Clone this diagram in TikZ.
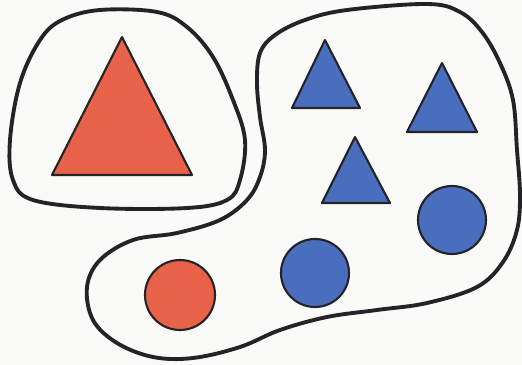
\documentclass[tikz,border=0pt]{standalone}
\usepackage{tikz}
\usepackage{xcolor}
\definecolor{setred}{RGB}{232,98,74}
\definecolor{setblue}{RGB}{74,110,190}
\definecolor{inkdark}{RGB}{35,35,40}
\definecolor{paper}{RGB}{250,250,248}

\begin{document}
\begin{tikzpicture}[x=0.02cm, y=-0.02cm,
    loopline/.style={draw=inkdark, line width=2.2pt, line join=round},
    redpiece/.style={fill=setred, draw=inkdark, line width=1.2pt, line join=round},
    bluepiece/.style={fill=setblue, draw=inkdark, line width=1.2pt, line join=round}
]
    % page with the scan's proportions
    \fill[paper] (0,0) rectangle (522,365);
    \useasboundingbox (0,0) rectangle (522,365);

    % left set: one big red triangle
    \draw[loopline] plot[smooth cycle, tension=0.6] coordinates {
        (100,10) (157,12) (187,27) (213,57) (233,100) (245,140) (240,180)
        (227,200) (187,208) (100,208) (33,200) (13,180) (10,140) (20,83)
        (40,40) (62,20)};
    \draw[redpiece] (122,37) -- (52,175) -- (192,175) -- cycle;

    % right set: blue triangles, blue circles, red circle
    \draw[loopline] plot[smooth cycle, tension=0.6] coordinates {
        (347,10) (427,4) (460,12) (482,32) (500,63) (513,100) (517,150)
        (520,195) (517,230) (503,262) (477,287) (427,303) (377,310)
        (327,317) (280,330) (240,347) (193,358) (153,357) (117,343)
        (93,320) (87,287) (100,260) (133,240) (177,233) (220,220)
        (247,200) (260,177) (265,150) (260,117) (257,83) (260,53)
        (275,35) (305,20)};
    \draw[bluepiece] (325,40) -- (292,108) -- (360,108) -- cycle;
    \draw[bluepiece] (442,63) -- (407,132) -- (477,132) -- cycle;
    \draw[bluepiece] (355,137) -- (322,203) -- (390,203) -- cycle;
    \draw[bluepiece] (452,220) circle[radius=34];
    \draw[bluepiece] (315,273) circle[radius=34];
    \draw[redpiece] (180,295) circle[radius=35];
\end{tikzpicture}
\end{document}
